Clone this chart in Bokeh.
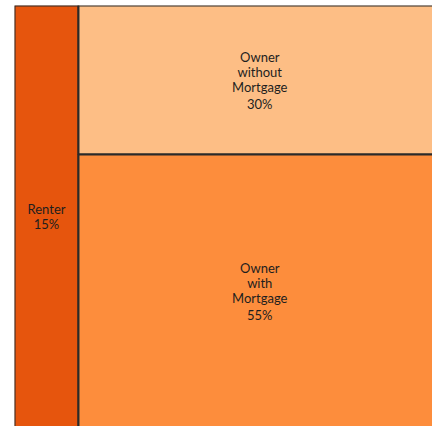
from bokeh.plotting import figure
from bokeh.models import ColumnDataSource
from bokeh.core.properties import value
from bokeh.embed import file_html
from bokeh.resources import INLINE

categories = ["Renter", "Owner\nwithout\nMortgage", "Owner\nwith\nMortgage"]
shares = [15, 30, 55]
colors = ["#e6550d", "#fdbe85", "#fd8d3c"]

# treemap layout from shares: renter column, owner column split vertically
total = sum(shares)
renter_w = shares[0] / total * 100
owner = shares[1] + shares[2]
top_h = shares[1] / owner * 100

left = [0, renter_w, renter_w]
right = [renter_w, 100, 100]
top = [100, 100, 100 - top_h]
bottom = [0, 100 - top_h, 0]
cx = [(l + r) / 2 for l, r in zip(left, right)]
cy = [(t + b) / 2 for t, b in zip(top, bottom)]

src = ColumnDataSource(dict(left=left, right=right, top=top, bottom=bottom, color=colors))

# label lines, each with its own pixel offset around the block centre
tx, ty, tt, toff = [], [], [], []
for c, s, x, y in zip(categories, shares, cx, cy):
    lines = c.split("\n") + [f"{s}%"]
    steps = [15] * (len(lines) - 2) + [17 if len(lines) > 2 else 15]
    span = sum(steps)
    off = -span / 2
    for i, ln in enumerate(lines):
        tx.append(x); ty.append(y); tt.append(ln); toff.append(off)
        if i < len(steps):
            off += steps[i]
tsrc = ColumnDataSource(dict(x=tx, y=ty, text=tt, off=toff))

# the reference view is cropped on the right, so the frame shows ~98% of the width
p = figure(width=432, height=426, x_range=(0, 98), y_range=(0.3, 100),
           output_backend="svg", toolbar_location=None,
           min_border_left=14, min_border_right=0, min_border_top=5, min_border_bottom=0)
p.axis.visible = False
p.grid.visible = False
p.outline_line_color = None

p.quad(left="left", right="right", top="top", bottom="bottom", source=src,
       fill_color="color", line_color="#2a2a2a", line_width=2)
p.text(x="x", y="y", text="text", y_offset="off", source=tsrc, text_align="center",
       text_baseline="middle", text_font=value("Lato"), text_font_size="13px",
       text_color="#1e1e1e")

open("out.html", "w").write(file_html(p, INLINE))
